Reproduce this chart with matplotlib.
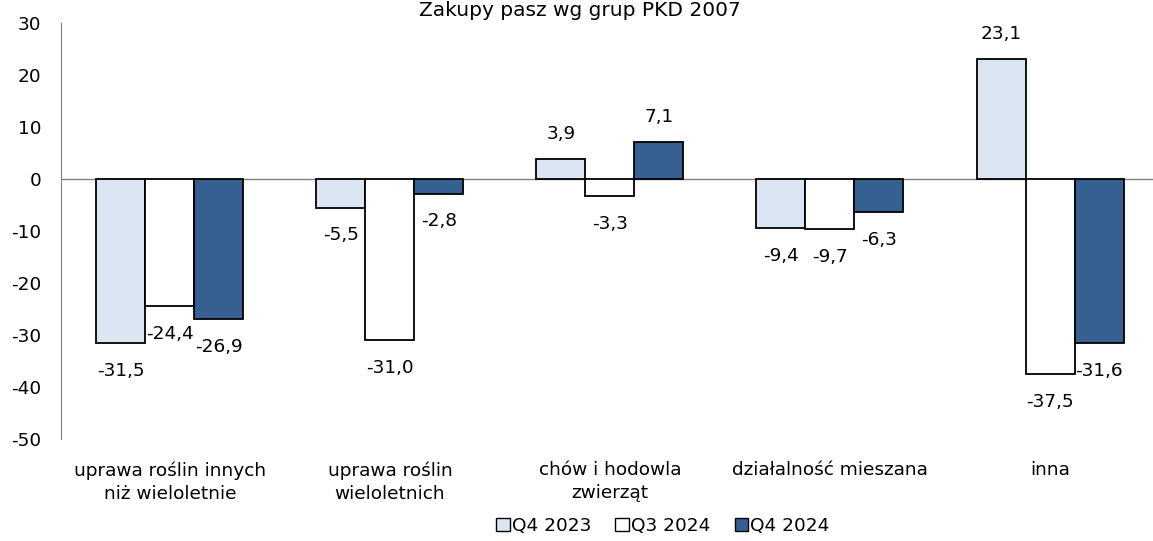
import numpy as np
import matplotlib.pyplot as plt

categories = ['uprawa roślin innych\nniż wieloletnie', 'uprawa roślin\nwieloletnich',
              'chów i hodowla\nzwierząt', 'działalność mieszana', 'inna']
series = ['Q4 2023', 'Q3 2024', 'Q4 2024']
q4_2023 = [-31.5, -5.5, 3.9, -9.4, 23.1]
q3_2024 = [-24.4, -31.0, -3.3, -9.7, -37.5]
q4_2024 = [-26.9, -2.8, 7.1, -6.3, -31.6]
yticks = [-50, -40, -30, -20, -10, 0, 10, 20, 30]

colors = ['#dce6f2', '#ffffff', '#376092']
plt.rcParams['font.family'] = ['DejaVu Sans']
fs = 13.3

fig = plt.figure(figsize=(11.53, 5.41), dpi=100)
ax = fig.add_axes([61 / 1153, 1 - 439 / 541, 1 - 61 / 1153, (439 - 23) / 541])

x = np.arange(len(categories))
w = 0.2227
for i, (vals, name) in enumerate(zip([q4_2023, q3_2024, q4_2024], series)):
    pos = x + (i - 1) * w
    ax.bar(pos, vals, width=w, color=colors[i], edgecolor='black',
           linewidth=1.3, label=name, zorder=3)
    # etykiety wartości nad / pod słupkami
    for xp, v in zip(pos, vals):
        off = 18 if v > 0 else -20
        ax.annotate(f'{v:.1f}'.replace('.', ','), (xp, v), xytext=(0, off),
                    textcoords='offset points', ha='center', va='center',
                    fontsize=fs, color='black')

ax.axhline(0, color='#808080', linewidth=1, zorder=2)
ax.set_ylim(-50, 30)
ax.set_xlim(-0.495, 4.468)
ax.set_yticks(yticks)
ax.set_yticklabels([str(t) for t in yticks], fontsize=fs)
ax.set_xticks(x)
ax.set_xticklabels(categories, fontsize=fs, linespacing=1.35)
ax.tick_params(axis='y', length=0, pad=14)
ax.tick_params(axis='x', length=0, pad=16)
for s in ['top', 'right', 'bottom']:
    ax.spines[s].set_visible(False)
ax.spines['left'].set_color('#808080')

fig.text(580 / 1153, 1 - 1 / 541, 'Zakupy pasz wg grup PKD 2007', ha='center', va='top',
         fontsize=14.5)

leg = fig.legend(loc='center', bbox_to_anchor=(663 / 1153, 1 - 526 / 541), ncol=3,
                 frameon=False, fontsize=fs, handlelength=0.75, handleheight=0.75,
                 handletextpad=0.1, columnspacing=1.3)
for h in leg.legend_handles:
    h.set_linewidth(1)

fig.savefig('out.png', dpi=100)
